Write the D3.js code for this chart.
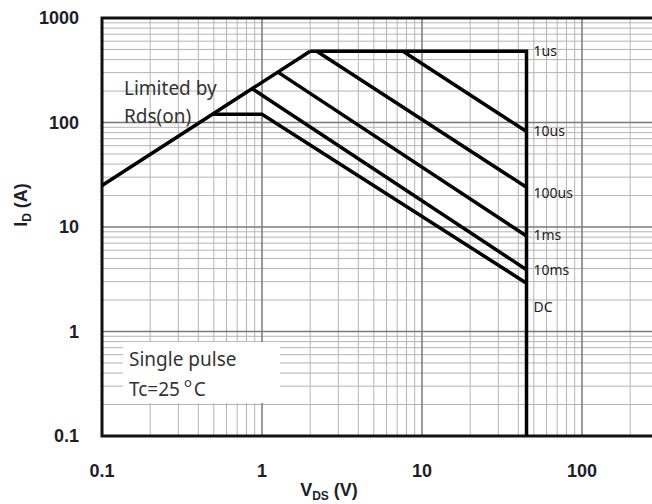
<!DOCTYPE html>
<html>
<head>
<meta charset="utf-8">
<script src="https://cdn.jsdelivr.net/npm/d3@7"></script>
<style>
  html, body { margin: 0; padding: 0; background: #fff; }
  #chart { width: 652px; height: 504px; overflow: hidden; }
</style>
</head>
<body>
<div id="chart"></div>
<script>
// Safe operating area (log-log)
const decadeTicks = [0.1, 1, 10, 100, 1000];
const xTickLabels = ['0.1', '1', '10', '100'];
const yTickLabels = ['0.1', '1', '10', '100', '1000'];

// Rds(on) limit line
const limitV = [0.1, 2.0];
const limitI = [25, 480];

// pulse-width curves
const curveNames = ['1us', '10us', '100us', '1ms', '10ms', 'DC'];
const curveV = [
    [2.0, 45, 45],
    [7.6, 45],
    [2.2, 45],
    [1.25, 45],
    [0.87, 45],
    [0.49, 1.0, 45]
];
const curveI = [
    [480, 480, 0.1],
    [480, 82],
    [480, 24],
    [305, 8.2],
    [210, 3.9],
    [120, 120, 2.9]
];
// current where each curve's label sits (at the 45 V edge)
const labelI = [480, 82, 21, 8.4, 3.9, 1.7];

const width = 652, height = 504;
const plotLeft = 102, plotTop = 18, plotBottom = 436;

const svg = d3.select('#chart')
    .append('svg')
    .attr('width', width)
    .attr('height', height);

const x = d3.scaleLog().domain([0.1, 1000]).range([plotLeft, plotLeft + 4 * 160]);
const y = d3.scaleLog().domain([0.1, 1000]).range([plotBottom, plotTop]);

// minor + major gridlines
const minor = [];
decadeTicks.slice(0, -1).forEach(d => {
    for (let k = 2; k <= 9; k++) minor.push(d * k);
});

const grid = svg.append('g');
grid.selectAll('line.vmin').data(minor).enter().append('line')
    .attr('x1', d => x(d)).attr('x2', d => x(d))
    .attr('y1', plotTop).attr('y2', plotBottom)
    .attr('stroke', '#b4b4b4').attr('stroke-width', 1);
grid.selectAll('line.hmin').data(minor).enter().append('line')
    .attr('y1', d => y(d)).attr('y2', d => y(d))
    .attr('x1', plotLeft).attr('x2', width)
    .attr('stroke', '#b4b4b4').attr('stroke-width', 1);
grid.selectAll('line.vmaj').data(decadeTicks.slice(1, -1)).enter().append('line')
    .attr('x1', d => x(d)).attr('x2', d => x(d))
    .attr('y1', plotTop).attr('y2', plotBottom)
    .attr('stroke', '#7a7a7a').attr('stroke-width', 1.5);
grid.selectAll('line.hmaj').data(decadeTicks.slice(1, -1)).enter().append('line')
    .attr('y1', d => y(d)).attr('y2', d => y(d))
    .attr('x1', plotLeft).attr('x2', width)
    .attr('stroke', '#7a7a7a').attr('stroke-width', 1.5);

// white box behind the note
svg.append('rect')
    .attr('x', 123).attr('y', 342)
    .attr('width', 157).attr('height', 61)
    .attr('fill', '#fff');

// frame (right side runs off the picture)
svg.append('path')
    .attr('d', `M${width + 5},${plotTop} H${plotLeft} V${plotBottom} H${width + 5}`)
    .attr('fill', 'none')
    .attr('stroke', '#111')
    .attr('stroke-width', 3);

const line = d3.line().x(d => x(d[0])).y(d => y(d[1]));

svg.append('path')
    .datum(d3.zip(limitV, limitI))
    .attr('d', line)
    .attr('fill', 'none')
    .attr('stroke', '#000')
    .attr('stroke-width', 3.5);

curveNames.forEach((name, i) => {
    svg.append('path')
        .datum(d3.zip(curveV[i], curveI[i]))
        .attr('d', line)
        .attr('fill', 'none')
        .attr('stroke', '#000')
        .attr('stroke-width', 3.5)
        .attr('stroke-linejoin', 'miter');

    svg.append('text')
        .attr('x', x(45) + 7)
        .attr('y', y(labelI[i]))
        .attr('dy', '0.35em')
        .style('font-family', '"Noto Sans", sans-serif')
        .style('font-size', '14px')
        .style('fill', '#222')
        .text(name);
});

// tick labels
const tickFont = '"Liberation Sans", Arial, sans-serif';
svg.selectAll('text.ytick').data(decadeTicks).enter().append('text')
    .attr('x', 79)
    .attr('y', d => y(d))
    .attr('dy', '0.35em')
    .attr('text-anchor', 'end')
    .style('font-family', tickFont)
    .style('font-weight', 'bold')
    .style('font-size', '18px')
    .style('fill', '#1e1e2a')
    .text((d, i) => yTickLabels[i]);

svg.selectAll('text.xtick').data(decadeTicks.slice(0, -1)).enter().append('text')
    .attr('x', d => x(d))
    .attr('y', 471)
    .attr('dy', '0.35em')
    .attr('text-anchor', 'middle')
    .style('font-family', tickFont)
    .style('font-weight', 'bold')
    .style('font-size', '18px')
    .style('fill', '#1e1e2a')
    .text((d, i) => xTickLabels[i]);

// axis titles
const xt = svg.append('text')
    .attr('x', 329).attr('y', 496)
    .attr('text-anchor', 'middle')
    .style('font-family', tickFont)
    .style('font-weight', 'bold')
    .style('font-size', '18px')
    .style('fill', '#1e1e2a');
xt.append('tspan').text('V');
xt.append('tspan').attr('dy', 4).style('font-size', '12px').text('DS');
xt.append('tspan').attr('dy', -4).text(' (V)');

const yt = svg.append('text')
    .attr('transform', 'translate(27,205) rotate(-90)')
    .attr('text-anchor', 'middle')
    .style('font-family', tickFont)
    .style('font-weight', 'bold')
    .style('font-size', '18px')
    .style('fill', '#1e1e2a');
yt.append('tspan').text('I');
yt.append('tspan').attr('dy', 4).style('font-size', '12px').text('D');
yt.append('tspan').attr('dy', -4).text(' (A)');

// annotations
const noteFont = '"Noto Sans", sans-serif';
svg.append('text')
    .attr('x', 124).attr('y', 95)
    .style('font-family', noteFont).style('font-size', '19px').style('fill', '#333')
    .text('Limited by');
svg.append('text')
    .attr('x', 124).attr('y', 123)
    .style('font-family', noteFont).style('font-size', '19px').style('fill', '#333')
    .text('Rds(on)');

svg.append('text')
    .attr('x', 129).attr('y', 366)
    .style('font-family', noteFont).style('font-size', '19px').style('fill', '#333')
    .text('Single pulse');
const tc = svg.append('text')
    .attr('x', 129).attr('y', 396)
    .style('font-family', noteFont).style('font-size', '19px').style('fill', '#333');
tc.append('tspan').text('Tc=25');
tc.append('tspan').attr('dx', 4).attr('dy', -9).style('font-size', '13px').text('o');
tc.append('tspan').attr('dx', 2).attr('dy', 9).text('C');
</script>
</body>
</html>
